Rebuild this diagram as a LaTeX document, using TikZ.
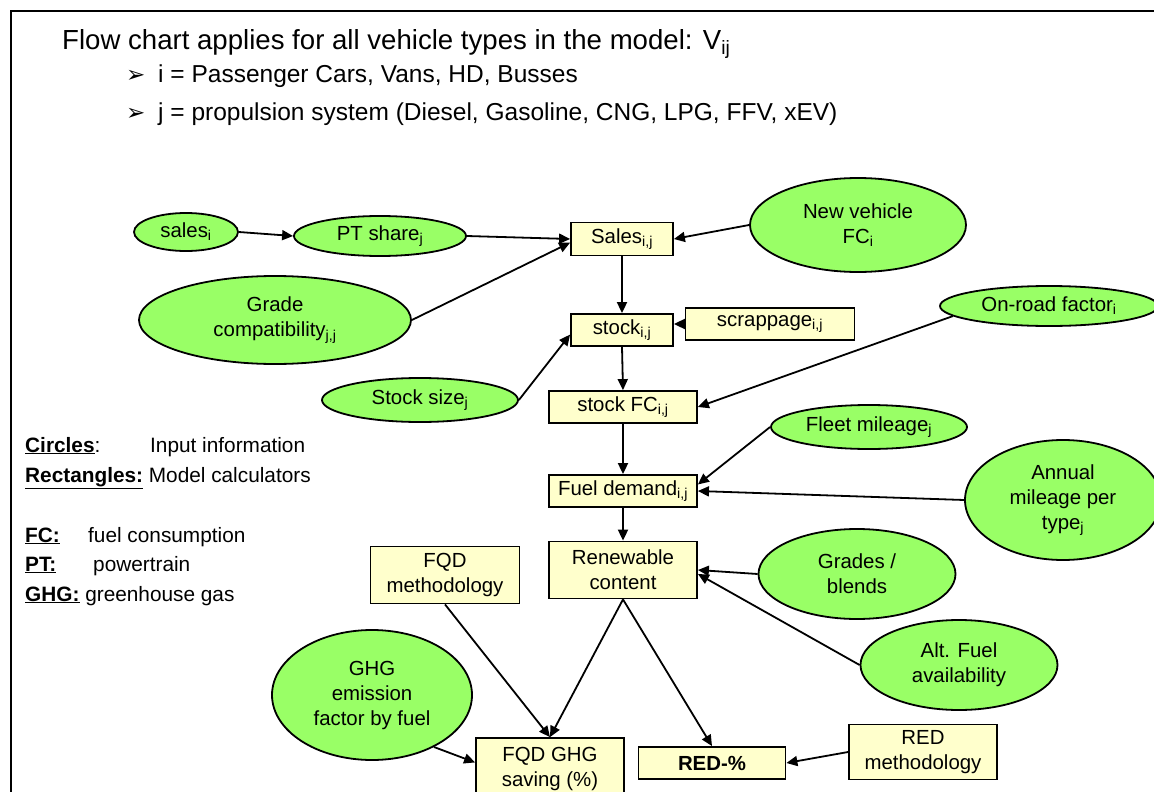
\documentclass[tikz,border=0pt]{standalone}
\usepackage{fontspec}
\setmainfont{Liberation Sans}
\newfontfamily\dejavu{DejaVu Sans}
\usetikzlibrary{shapes.geometric,arrows.meta}
\definecolor{ingreen}{RGB}{153,255,102}
\definecolor{calcyellow}{RGB}{255,255,204}
\newcommand\sbs[1]{\textsubscript{#1}}
\newcommand\ulb[1]{\underline{\textbf{#1}}}
\begin{document}
\begin{tikzpicture}[x=1pt,y=-1pt,
  inp/.style={ellipse, draw=black, line width=1.8pt, fill=ingreen, inner sep=0pt, align=center, font=\fontsize{20.4}{25}\selectfont},
  calc/.style={rectangle, draw=black, line width=1.8pt, fill=calcyellow, inner sep=0pt, align=center, font=\fontsize{20.4}{25}\selectfont},
  arr/.style={-{Triangle[length=11pt,width=10pt]}, line width=1.8pt},
  txt/.style={anchor=base west, inner sep=0pt},
  legend/.style={txt, font=\fontsize{20.8}{24}\selectfont}]
\useasboundingbox (0,0) rectangle (1154,792);
\clip (0,0) rectangle (1154,792);
\fill[white] (0,0) rectangle (1154,792);
% frame
\draw[line width=2.2pt] (11,800) -- (11,11) -- (1160,11);
% heading
\node[txt, font=\fontsize{27.6}{32}\selectfont] (title) at (62,49) {Flow chart applies for all vehicle types in the model: V\sbs{ij}};
\node[txt, font=\fontsize{23}{26}\dejavu] (bul1) at (126,82) {➢};
\node[txt, font=\fontsize{24.5}{29}\selectfont] (item1) at (158,82) {i = Passenger Cars, Vans, HD, Busses};
\node[txt, font=\fontsize{23}{26}\dejavu] (bul2) at (126,121) {➢};
\node[txt, font=\fontsize{24.5}{29}\selectfont] (item2) at (158,121) {j = propulsion system (Diesel, Gasoline, CNG, LPG, FFV, xEV)};
% legend
\node[legend] (lg1) at (25,452) {\ulb{Circles}:};
\node[legend] (lg1b) at (150,452) {Input information};
\node[legend] (lg2) at (25,482) {\ulb{Rectangles:} Model calculators};
\node[legend] (lg3) at (25,542) {\ulb{FC:}};
\node[legend] (lg3b) at (88,542) {fuel consumption};
\node[legend] (lg4) at (25,571) {\ulb{PT:}};
\node[legend] (lg4b) at (93,571) {powertrain};
\node[legend] (lg5) at (25,601) {\ulb{GHG:} greenhouse gas};
% nodes
\node[inp, minimum width=104, minimum height=38] (salesi) at (186,232) {sales\sbs{i}};
\node[inp, minimum width=172, minimum height=40] (ptshare) at (380,236) {PT share\sbs{j}};
\node[calc, minimum width=102, minimum height=33] (sales) at (622,239) {Sales\sbs{i,j}};
\node[inp, minimum width=216, minimum height=94] (newfc) at (858,225) {New vehicle\\FC\sbs{i}};
\node[inp, minimum width=272, minimum height=88] (grade) at (275,320) {Grade\\compatibility\sbs{j,j}};
\node[calc, minimum width=102, minimum height=32] (stock) at (622,330) {stock\sbs{i,j}};
\node[calc, minimum width=169, minimum height=32] (scrap) at (770,324) {scrappage\sbs{i,j}};
\node[inp, minimum width=218, minimum height=40] (onroad) at (1049,306) {On-road factor\sbs{i}};
\node[inp, minimum width=196, minimum height=44] (stocksize) at (420,400) {Stock size\sbs{j}};
\node[calc, minimum width=148, minimum height=32] (stockfc) at (623,407) {stock FC\sbs{i,j}};
\node[inp, minimum width=196, minimum height=44] (fleet) at (869,427) {Fleet mileage\sbs{j}};
\node[calc, minimum width=148, minimum height=32] (fuel) at (623,491) {Fuel demand\sbs{i,j}};
\node[inp, minimum width=196, minimum height=120] (annual) at (1063,500) {Annual\\mileage per\\type\sbs{j}};
\node[calc, minimum width=148, minimum height=57] (renew) at (623,570) {Renewable\\content};
\node[inp, minimum width=197, minimum height=90] (grades) at (857,574) {Grades /\\blends};
\node[calc, minimum width=149, minimum height=57] (fqdm) at (445,575) {FQD\\methodology};
\node[inp, minimum width=197, minimum height=90] (alt) at (959,665) {Alt. Fuel\\availability};
\node[inp, minimum width=200, minimum height=130] (ghgef) at (372,695) {GHG\\emission\\factor by fuel};
\node[calc, minimum width=148, minimum height=62] (fqdghg) at (550,769) {FQD GHG\\saving (\%)};
\node[calc, minimum width=147, minimum height=32, font=\fontsize{20.4}{25}\bfseries] (red) at (712,763) {RED-\%};
\node[calc, minimum width=148, minimum height=55] (redm) at (923,752) {RED\\methodology};
% connectors
\draw[arr] (salesi.east) -- (ptshare.west);
\draw[arr] (ptshare.east) -- (sales.west);
\draw[arr] (grade.east) -- (sales.184);
\draw[arr] (newfc.west) -- (sales.east);
\draw[arr] (sales.south) -- (stock.north);
\draw[arr] (scrap.west) -- (scrap.west -| stock.east);
\draw[arr] (stocksize.east) -- (stock.185);
\draw[arr] (stock.south) -- (stockfc.north);
\draw[arr] (onroad.186) -- (stockfc.east);
\draw[arr] (stockfc.south) -- (fuel.north);
\draw[arr] (fleet.west) -- (fuel.5);
\draw[arr] (annual.west) -- (fuel.east);
\draw[arr] (fuel.south) -- (renew.north);
\draw[arr] (grades.west) -- (renew.east);
\draw[arr] (alt.west) -- (renew.357);
\draw[arr] (renew.south) -- (fqdghg.north);
\draw[arr] (renew.south) -- (red.north);
\draw[arr] (fqdm.south) -- (fqdghg.north);
\draw[arr] (ghgef.320) -- (fqdghg.175);
\draw[arr] (redm.west) -- (red.east);
\end{tikzpicture}
\end{document}
